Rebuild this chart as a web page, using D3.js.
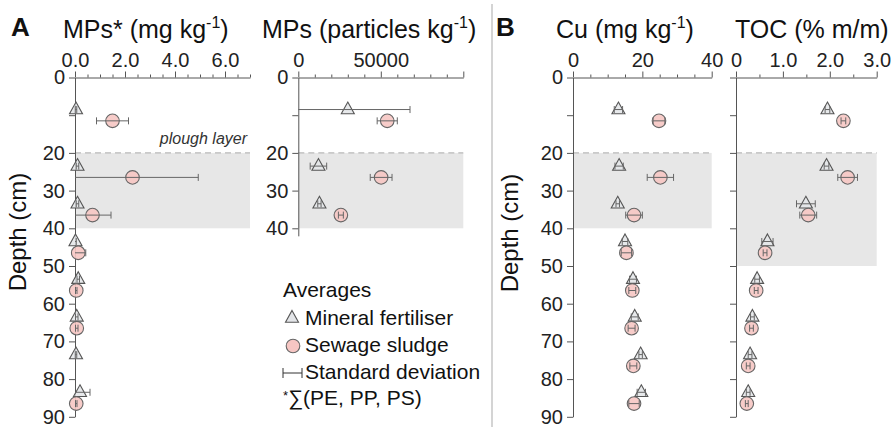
<!DOCTYPE html>
<html>
<head>
<meta charset="utf-8">
<script src="https://cdn.jsdelivr.net/npm/d3@7/dist/d3.min.js"></script>
<style>
  body { margin: 0; background: #fff; }
  svg { font-family: "Liberation Sans", Arial, sans-serif; }
  .axis path, .axis line { stroke: #555; stroke-width: 1; }
  .axis text { fill: #222; font-size: 20px; font-family: "Liberation Sans", Arial, sans-serif; }
</style>
</head>
<body>
<script>
// Sampling depths (cm) of the two treatments, slightly offset for readability
const depthMineral = [8.5, 23.5, 33.5, 43.5, 53.5, 63.5, 73.5, 83.5];
const depthSludge  = [11.5, 26.5, 36.5, 46.5, 56.5, 66.5, 76.5, 86.5];

// Microplastics mass content, mg/kg (sum of PE, PP, PS)
const mpMassMineral   = [0.04, 0.10, 0.10, 0.02, 0.13, 0.07, 0.04, 0.20];
const mpMassMineralSd = [0.03, 0.05, 0.05, 0.03, 0.05, 0.05, 0.03, 0.40];
const mpMassSludge    = [1.50, 2.30, 0.70, 0.13, 0.05, 0.07, null, 0.05];
const mpMassSludgeSd  = [0.64, 2.63, 0.74, 0.30, 0.03, 0.05, null, 0.03];

// Microplastics particle counts, particles/kg (top three layers only)
const mpCountMineral   = [30000, 12200, 12800];
const mpCountMineralSd = [37700, 5000, 1000];
const mpCountSludge    = [53900, 50200, 25800];
const mpCountSludgeSd  = [6100, 6600, 1500];

// Copper, mg/kg
const cuMineral   = [13.1, 13.3, 12.9, 15.0, 17.3, 17.8, 19.5, 19.7];
const cuMineralSd = [1.2, 1.2, 0.5, 0.8, 1.0, 1.0, 0.5, 1.2];
const cuSludge    = [24.8, 25.2, 17.6, 15.4, 17.1, 16.9, 17.4, 17.6];
const cuSludgeSd  = [1.7, 3.8, 2.4, 1.5, 1.0, 1.0, 1.0, 1.5];

// Total organic carbon, % m/m
const tocMineral   = [1.95, 1.93, 1.49, 0.67, 0.45, 0.35, 0.30, 0.26];
const tocMineralSd = [0.05, 0.05, 0.20, 0.12, 0.05, 0.04, 0.04, 0.04];
const tocSludge    = [2.29, 2.38, 1.54, 0.62, 0.43, 0.33, 0.26, 0.23];
const tocSludgeSd  = [0.05, 0.21, 0.18, 0.04, 0.04, 0.04, 0.04, 0.03];

// Axis ticks
const depthTicks = [0, 10, 20, 30, 40, 50, 60, 70, 80, 90];
const depthTickLabels = ["0", "", "20", "30", "40", "50", "60", "70", "80", "90"];
const mpMassTicks = [0, 2, 4, 6];
const mpMassTickLabels = ["0.0", "2.0", "4.0", "6.0"];
const mpCountTicks = [0, 50000];
const mpCountTickLabels = ["0", "50000"];
const cuTicks = [0, 20, 40];
const cuTickLabels = ["0", "20", "40"];
const tocTicks = [0, 1, 2, 3];
const tocTickLabels = ["0", "1.0", "2.0", "3.0"];

const legendItems = ["Mineral fertiliser", "Sewage sludge", "Standard deviation"];

const svg = d3.select("body").append("svg").attr("width", 893).attr("height", 427);

const yTop = 77.5, pxPerCm = 3.77;

const panels = [
  { x0: 75, x1: 250, domain: [0, 7], step: 0.5, majorTicks: mpMassTicks, labels: mpMassTickLabels,
    maxDepth: 90, shade: [20, 40], yLabels: true, ploughText: true,
    mineral: mpMassMineral, mineralSd: mpMassMineralSd, sludge: mpMassSludge, sludgeSd: mpMassSludgeSd },
  { x0: 298.3, x1: 463.3, domain: [0, 100000], step: 10000, majorTicks: [0, 50000, 100000], labels: mpCountTickLabels, labelTicks: mpCountTicks,
    maxDepth: 42, shade: [20, 40], yLabels: true, yTickMax: 40,
    mineral: mpCountMineral, mineralSd: mpCountMineralSd, sludge: mpCountSludge, sludgeSd: mpCountSludgeSd },
  { x0: 573, x1: 711.7, domain: [0, 40], step: 5, majorTicks: cuTicks, labels: cuTickLabels,
    maxDepth: 90, shade: [20, 40], yLabels: true,
    mineral: cuMineral, mineralSd: cuMineralSd, sludge: cuSludge, sludgeSd: cuSludgeSd },
  { x0: 736, x1: 876.7, domain: [0, 3], step: 0.5, majorTicks: tocTicks, labels: tocTickLabels,
    maxDepth: 90, shade: [20, 50], yLabels: false,
    mineral: tocMineral, mineralSd: tocMineralSd, sludge: tocSludge, sludgeSd: tocSludgeSd }
];

const trianglePath = "M0,-7.5L6.5,4.2L-6.5,4.2Z";

function near(a, b, step) { return Math.abs(a - b) < step * 1e-6; }

panels.forEach(p => {
  const x = d3.scaleLinear().domain(p.domain).range([p.x0, p.x1]);
  const y = d3.scaleLinear().domain([0, p.maxDepth]).range([yTop, yTop + p.maxDepth * pxPerCm]);
  const g = svg.append("g");

  // plough layer shading and its upper boundary
  g.append("rect")
    .attr("x", x(p.domain[0])).attr("y", y(p.shade[0]))
    .attr("width", x(p.domain[1]) - x(p.domain[0]))
    .attr("height", y(p.shade[1]) - y(p.shade[0]))
    .attr("fill", "#e7e7e7");
  g.append("line")
    .attr("x1", x(p.domain[0])).attr("x2", x(p.domain[1]))
    .attr("y1", y(20)).attr("y2", y(20))
    .attr("stroke", "#aaa").attr("stroke-dasharray", "6,4");

  if (p.ploughText) {
    g.append("text").attr("x", x(p.domain[1]) - 3).attr("y", y(20) - 9)
      .attr("text-anchor", "end").attr("font-style", "italic")
      .attr("font-size", 16).attr("fill", "#333").text("plough layer");
  }

  // top value axis with minor ticks
  const vals = d3.range(p.domain[0], p.domain[1] + p.step / 2, p.step);
  const labelTicks = p.labelTicks || p.majorTicks;
  const gx = g.append("g").attr("class", "axis").attr("transform", `translate(0,${yTop})`)
    .call(d3.axisTop(x).tickValues(vals).tickSize(3).tickSizeOuter(0)
      .tickFormat(d => {
        const i = labelTicks.findIndex(t => near(t, d, p.step));
        return i >= 0 ? p.labels[i] : "";
      }));
  gx.selectAll(".tick line").attr("y2", d => p.majorTicks.some(t => near(t, d, p.step)) ? -6 : -3);
  gx.selectAll(".tick text").attr("y", -11);

  // left depth axis
  const yVals = depthTicks.filter(d => d <= (p.yTickMax || p.maxDepth));
  g.append("g").attr("class", "axis").attr("transform", `translate(${x(p.domain[0])},0)`)
    .call(d3.axisLeft(y).tickValues(yVals).tickSize(6).tickSizeOuter(0).tickPadding(4)
      .tickFormat(d => p.yLabels ? depthTickLabels[depthTicks.indexOf(d)] : ""));

  // markers: triangles (mineral fertiliser), circles (sewage sludge)
  const mData = p.mineral.map((v, i) => ({ v, sd: p.mineralSd[i], d: depthMineral[i] })).filter(e => e.v != null);
  const sData = p.sludge.map((v, i) => ({ v, sd: p.sludgeSd[i], d: depthSludge[i] })).filter(e => e.v != null);

  g.selectAll(".tri").data(mData).enter().append("path")
    .attr("d", trianglePath)
    .attr("transform", e => `translate(${x(e.v)},${y(e.d)})`)
    .attr("fill", "#e3e5e8").attr("fill-opacity", 0.85)
    .attr("stroke", "#555").attr("stroke-width", 1.1);
  g.selectAll(".cir").data(sData).enter().append("circle")
    .attr("cx", e => x(e.v)).attr("cy", e => y(e.d)).attr("r", 6.8)
    .attr("fill", "#f6c6c3").attr("fill-opacity", 0.9)
    .attr("stroke", "#666").attr("stroke-width", 1.1);

  // standard deviation bars, clipped at the axis origin
  mData.concat(sData).forEach(e => {
    const lo = e.v - e.sd, hi = e.v + e.sd;
    const xl = x(Math.max(lo, p.domain[0])), xr = x(hi), yy = y(e.d);
    g.append("line").attr("x1", xl).attr("x2", xr).attr("y1", yy).attr("y2", yy)
      .attr("stroke", "#666").attr("stroke-width", 1);
    if (lo >= p.domain[0]) {
      g.append("line").attr("x1", xl).attr("x2", xl).attr("y1", yy - 3.5).attr("y2", yy + 3.5)
        .attr("stroke", "#666").attr("stroke-width", 1);
    }
    g.append("line").attr("x1", xr).attr("x2", xr).attr("y1", yy - 3.5).attr("y2", yy + 3.5)
      .attr("stroke", "#666").attr("stroke-width", 1);
  });
});

// separator between the two figure parts
svg.append("line").attr("x1", 492).attr("x2", 492).attr("y1", 4).attr("y2", 427)
  .attr("stroke", "#d4d4d4").attr("stroke-width", 2);

// panel letters
svg.append("text").attr("x", 11).attr("y", 36).attr("font-size", 26).attr("font-weight", "bold").attr("fill", "#111").text("A");
svg.append("text").attr("x", 496).attr("y", 36).attr("font-size", 26).attr("font-weight", "bold").attr("fill", "#111").text("B");

// variable titles with superscripts
function title(xPos, main, sup, tail) {
  const t = svg.append("text").attr("x", xPos).attr("y", 38).attr("font-size", 25).attr("fill", "#111");
  t.append("tspan").text(main);
  if (sup) {
    t.append("tspan").attr("font-size", 16).attr("dy", -10).text(sup);
    t.append("tspan").attr("dy", 10).text(tail);
  }
}
title(63, "MPs* (mg kg", "-1", ")");
title(262, "MPs (particles kg", "-1", ")");
title(556, "Cu (mg kg", "-1", ")");
title(735, "TOC (% m/m)");

// depth axis titles
[[26, 232], [518, 233]].forEach(([cx, cy]) => {
  svg.append("text").attr("transform", `translate(${cx},${cy}) rotate(-90)`)
    .attr("text-anchor", "middle").attr("font-size", 24).attr("fill", "#111").text("Depth (cm)");
});

// legend
const lg = svg.append("g").attr("font-size", 21).attr("fill", "#111");
lg.append("text").attr("x", 283).attr("y", 297).text("Averages");
lg.append("path").attr("d", trianglePath).attr("transform", "translate(292,318)")
  .attr("fill", "#e3e5e8").attr("stroke", "#555").attr("stroke-width", 1.1);
lg.append("circle").attr("cx", 293).attr("cy", 346).attr("r", 6.8)
  .attr("fill", "#f6c6c3").attr("stroke", "#666").attr("stroke-width", 1.1);
lg.append("line").attr("x1", 283).attr("x2", 302).attr("y1", 373).attr("y2", 373).attr("stroke", "#333");
lg.append("line").attr("x1", 283).attr("x2", 283).attr("y1", 368).attr("y2", 378).attr("stroke", "#333");
lg.append("line").attr("x1", 302).attr("x2", 302).attr("y1", 368).attr("y2", 378).attr("stroke", "#333");
legendItems.forEach((s, i) => {
  lg.append("text").attr("x", 305).attr("y", 325 + i * 27).text(s);
});
const foot = lg.append("text").attr("x", 283).attr("y", 405);
foot.append("tspan").attr("font-size", 13).attr("dy", -5).text("*");
foot.append("tspan").attr("dy", 5).text("∑(PE, PP, PS)");
</script>
</body>
</html>
